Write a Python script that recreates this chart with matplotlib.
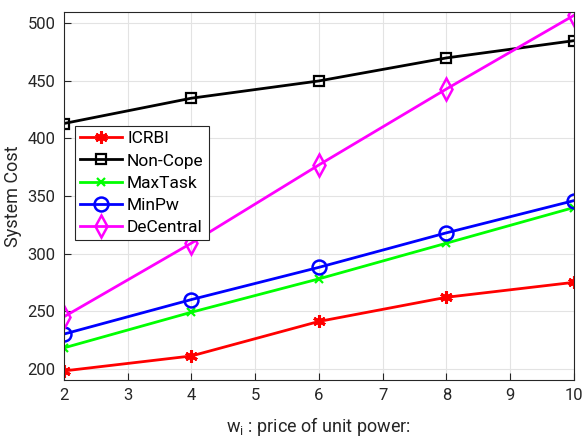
import matplotlib
matplotlib.use("Agg")
from matplotlib import pyplot as plt

plt.rcParams['font.family'] = ['Roboto', 'DejaVu Sans']
plt.rcParams['mathtext.fontset'] = 'custom'
plt.rcParams['mathtext.rm'] = 'Roboto'
plt.rcParams['mathtext.it'] = 'Roboto'

# price of unit power
w = [2, 4, 6, 8, 10]

icrbi = [198, 211, 241, 262, 275]
non_cope = [413, 435, 450, 470, 485]
max_task = [218, 249, 278, 309, 340]
min_pw = [230, 260, 288, 318, 346]
decentral = [245, 309, 377, 443, 507]

fig = plt.figure(figsize=(5.85, 4.41), dpi=100)
ax = fig.add_axes([0.109, 0.138, 0.872, 0.835])

ax.plot(w, icrbi, color='red', lw=2, marker=(6, 2, 0), ms=9, mew=2.2, label='ICRBI')
ax.plot(w, non_cope, color='black', lw=2, marker='s', ms=7, mfc='none', mew=1.6, label='Non-Cope')
ax.plot(w, max_task, color='#00ff00', lw=2, marker='x', ms=6, mew=1.6, label='MaxTask')
ax.plot(w, min_pw, color='blue', lw=2, marker='o', ms=10, mfc='none', mew=1.8, label='MinPw')
ax.plot(w, decentral, color='magenta', lw=2, marker='d', ms=11, mfc='none', mew=1.8, label='DeCentral')

ax.set_xlim(2, 10)
ax.set_ylim(190, 510)
ax.set_xticks(range(2, 11))
ax.set_yticks(range(200, 501, 50))
ax.grid(True, color='#e3e3e3', lw=0.8)
ax.tick_params(direction='in', labelsize=12, length=5, colors='#262626', pad=6)
for s in ax.spines.values():
    s.set_color('#262626')

ax.set_xlabel('w$_{\\mathrm{i}}$ : price of unit power:', fontsize=13, color='#262626', labelpad=8)
ax.set_ylabel('System Cost', fontsize=13, color='#262626', labelpad=4)

leg = ax.legend(loc='upper left', bbox_to_anchor=(0.022, 0.69), fontsize=12.5,
                fancybox=False, edgecolor='#262626', framealpha=1,
                handlelength=2.4, borderpad=0.3, labelspacing=0.4, handletextpad=0.3,
                borderaxespad=0)
leg.get_frame().set_linewidth(0.8)

fig.savefig('out.png', dpi=100)
